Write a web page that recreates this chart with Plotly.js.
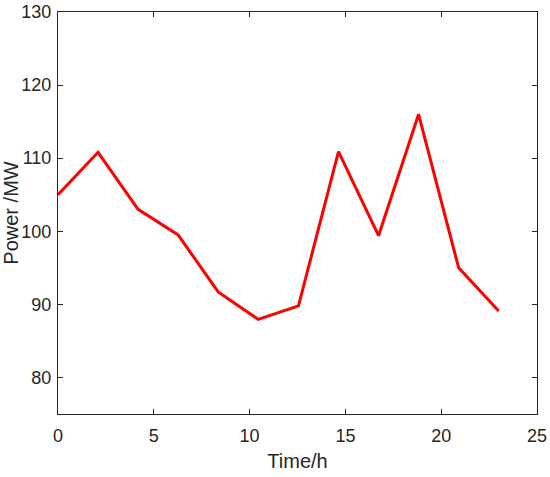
<!DOCTYPE html>
<html>
<head>
<meta charset="utf-8">
<script src="https://cdn.plot.ly/plotly-3.0.1.min.js"></script>
<style>html,body{margin:0;padding:0;background:#fff;}#chart{width:550px;height:477px;}</style>
</head>
<body>
<div id="chart"></div>
<script>
const timeH = [0, 2.09, 4.18, 6.27, 8.36, 10.45, 12.55, 14.64, 16.73, 18.82, 20.91, 23];
const powerMW = [105.0, 110.8, 103.0, 99.5, 91.7, 87.95, 89.8, 110.9, 99.4, 116.0, 95.0, 89.1];
const xTicks = [0, 5, 10, 15, 20, 25];
const yTicks = [80, 90, 100, 110, 120, 130];

const axisColor = '#262626';
const fontFam = 'Liberation Sans, Arial, sans-serif';

Plotly.newPlot('chart', [{
  x: timeH, y: powerMW, type: 'scatter', mode: 'lines',
  line: {color: '#ff0000', width: 3}
}], {
  width: 550, height: 477,
  margin: {l: 57.5, r: 13, t: 12, b: 63, pad: 0},
  paper_bgcolor: '#fff', plot_bgcolor: '#fff',
  showlegend: false,
  font: {family: fontFam, color: axisColor, size: 16},
  xaxis: {
    range: [0, 25], tickvals: xTicks, ticktext: xTicks.map(String),
    ticks: 'inside', ticklen: 5, tickwidth: 1, tickcolor: axisColor,
    showline: true, linecolor: axisColor, linewidth: 1, mirror: 'ticks',
    showgrid: false, zeroline: false,
    tickfont: {size: 18, color: axisColor, family: fontFam},
    ticklabelstandoff: 5,
    title: {text: 'Time/h', font: {size: 20, color: axisColor, family: fontFam}, standoff: 9}
  },
  yaxis: {
    range: [75, 130], tickvals: yTicks, ticktext: yTicks.map(String),
    ticks: 'inside', ticklen: 5, tickwidth: 1, tickcolor: axisColor,
    showline: true, linecolor: axisColor, linewidth: 1, mirror: 'ticks',
    showgrid: false, zeroline: false,
    tickfont: {size: 18, color: axisColor, family: fontFam},
    ticklabelstandoff: 2,
    title: {text: 'Power /MW', font: {size: 20, color: axisColor, family: fontFam}, standoff: 2}
  }
}, {displayModeBar: false, staticPlot: true});
</script>
</body>
</html>
